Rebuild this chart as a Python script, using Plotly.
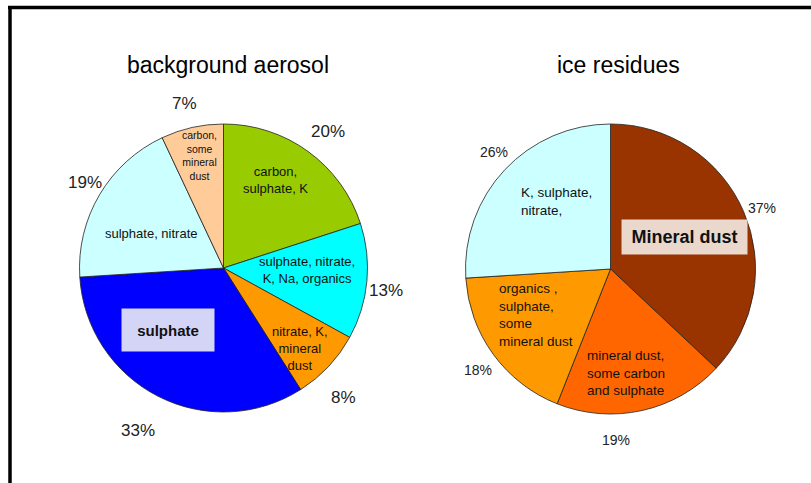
import plotly.graph_objects as go

W, H = 811, 483

# ---- data ----
bg_labels = ["carbon, sulphate, K", "sulphate, nitrate, K, Na, organics",
             "nitrate, K, mineral dust", "sulphate", "sulphate, nitrate",
             "carbon, some mineral dust"]
bg_values = [20, 13, 8, 33, 19, 7]
bg_colors = ["#99CC00", "#00FFFF", "#FF9900", "#0000FF", "#CCFFFF", "#FFCC99"]

ice_labels = ["Mineral dust", "mineral dust, some carbon and sulphate",
              "organics, sulphate, some mineral dust", "K, sulphate, nitrate,"]
ice_values = [37, 19, 18, 26]
ice_colors = ["#993300", "#FF6600", "#FF9900", "#CCFFFF"]

FONT = "Liberation Sans, Arial, sans-serif"


def px(x):
    return x / W


def py(y):
    return 1 - y / H


def dom(cx, cy, r):
    return dict(x=[px(cx - r), px(cx + r)], y=[py(cy + r), py(cy - r)])


fig = go.Figure()
fig.add_trace(go.Pie(labels=bg_labels, values=bg_values, sort=False,
                     direction="clockwise", rotation=0, textinfo="none",
                     marker=dict(colors=bg_colors, line=dict(color="#222", width=0.8)),
                     domain=dom(223.5, 268, 144), showlegend=False, hoverinfo="label+percent"))
fig.add_trace(go.Pie(labels=ice_labels, values=ice_values, sort=False,
                     direction="clockwise", rotation=0, textinfo="none",
                     marker=dict(colors=ice_colors, line=dict(color="#222", width=0.8)),
                     domain=dom(610.5, 269, 145), showlegend=False, hoverinfo="label+percent"))

ann = []


def add(text, x, y, size, bold=False, color="#111", align="center", xanchor="center", **kw):
    t = f"<b>{text}</b>" if bold else text
    d = dict(text=t, x=px(x), y=py(y), xref="paper", yref="paper", showarrow=False,
             font=dict(family=FONT, size=size, color=color), align=align,
             xanchor=xanchor, yanchor="middle")
    d.update(kw)
    ann.append(d)


# titles
add("background aerosol", 228, 65, 23, color="#000")
add("ice residues", 618, 65, 23, color="#000")

# left percentages
bg_pos = [(328, 131), (386, 290), (343, 397), (138, 430), (85, 182), (184, 103)]
for v, (x, y) in zip(bg_values, bg_pos):
    add(f"{v}%", x, y, 17, color="#222")

# right percentages
ice_pos = [(762, 208), (616, 440), (478, 370), (494, 152)]
for v, (x, y) in zip(ice_values, ice_pos):
    add(f"{v}%", x, y, 14, color="#222")

# left inner labels
add("carbon,<br>sulphate, K", 275, 180, 13)
add("sulphate, nitrate,<br>K, Na, organics", 307, 270, 13)
add("nitrate, K,<br>mineral<br>dust", 300, 348, 13)
add("sulphate, nitrate", 151, 233, 13)
add("carbon,<br>some<br>mineral<br>dust", 199, 156, 10.5)
add("sulphate", 168, 330, 15, bold=True, bgcolor="#D4D4F6",
    width=92, height=42, borderpad=0)

# right inner labels
add("K, sulphate,<br>nitrate,", 519, 201, 13.5, align="left", xanchor="left")
add("organics ,<br>sulphate,<br>some<br>mineral dust", 497, 315, 13.5, align="left", xanchor="left")
add("mineral dust,<br>some carbon<br>and sulphate", 585, 373, 13.5, align="left", xanchor="left")
add("Mineral dust", 684, 237, 18, bold=True, bgcolor="#EAD8CC",
    width=125, height=34, borderpad=0)

shapes = [
    dict(type="line", xref="paper", yref="paper", x0=px(8), x1=px(W + 2), y0=py(7.5), y1=py(7.5),
         line=dict(color="#000", width=3.5)),
    dict(type="line", xref="paper", yref="paper", x0=px(10), x1=px(10), y0=py(6), y1=py(H + 2),
         line=dict(color="#000", width=3.5)),
]

fig.update_layout(width=W, height=H, margin=dict(l=0, r=0, t=0, b=0),
                  paper_bgcolor="white", plot_bgcolor="white",
                  annotations=ann, shapes=shapes, showlegend=False)

fig.write_html("out.html")
